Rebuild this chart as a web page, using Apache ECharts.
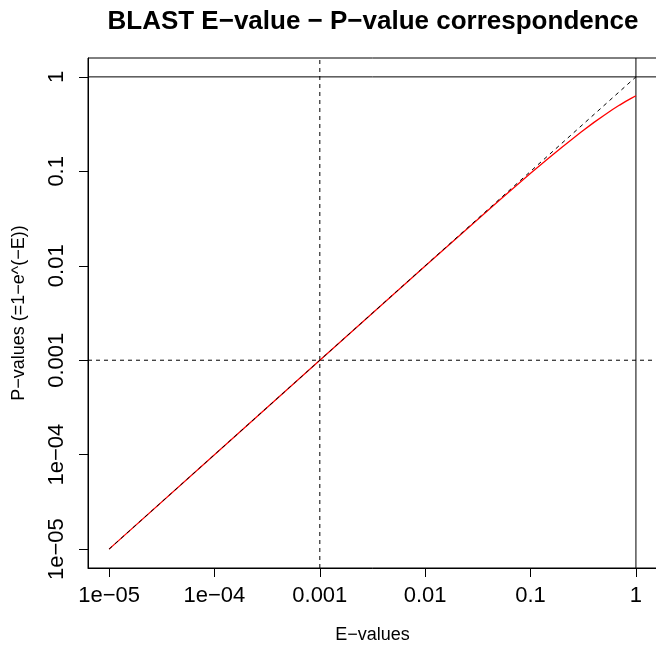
<!DOCTYPE html>
<html>
<head>
<meta charset="utf-8">
<script src="https://cdn.jsdelivr.net/npm/echarts@6/dist/echarts.min.js"></script>
<style>
  html, body { margin: 0; padding: 0; background: #fff; }
  #chart { width: 656px; height: 647px; }
</style>
</head>
<body>
<div id="chart"></div>
<script>
// decade ticks on both axes
var tickValues = [1e-5, 1e-4, 1e-3, 0.01, 0.1, 1];
var tickLabels = ['1e\u221205', '1e\u221204', '0.001', '0.01', '0.1', '1'];

// E-values and matching P-values
var eValues = [1e-5, 1e-4, 1e-3, 0.01, 0.05, 0.1, 0.15, 0.2, 0.3, 0.4, 0.5, 0.6, 0.7, 0.8, 0.9, 1];
var pValues = [1e-5, 1e-4, 0.001, 0.00995, 0.0488, 0.0952, 0.139, 0.181, 0.259, 0.330, 0.393, 0.451, 0.503, 0.551, 0.593, 0.632];

// dashed identity line P = E
var diagE = [1e-5, 1];
var diagP = [1e-5, 1];

// reference lines: dashed cut-offs and solid lines at 1
var cutE = 0.001, cutP = 0.001;
var limE = 1, limP = 1;

var FONT = '"Liberation Sans", Arial, sans-serif';
var AX_MIN = Math.pow(10, -5.2), AX_MAX = Math.pow(10, 0.2);

function fmt(v) {
  for (var i = 0; i < tickValues.length; i++) {
    if (Math.abs(Math.log10(v) - Math.log10(tickValues[i])) < 1e-6) return tickLabels[i];
  }
  return '';
}

function vline(x, type) {
  return {
    type: 'line', data: [[x, AX_MIN], [x, AX_MAX]], symbol: 'none', silent: true,
    lineStyle: { color: '#000', width: 1, type: type }, z: 1
  };
}
function hline(y, type) {
  return {
    type: 'line', data: [[AX_MIN, y], [AX_MAX, y]], symbol: 'none', silent: true,
    lineStyle: { color: '#000', width: 1, type: type }, z: 1
  };
}

var axisCommon = {
  type: 'log',
  logBase: 10,
  min: AX_MIN,
  max: AX_MAX,
  splitLine: { show: false },
  axisLine: { show: true, onZero: false, lineStyle: { color: '#000', width: 1 } },
  axisTick: { show: true, length: 9, inside: false, customValues: tickValues, lineStyle: { color: '#000', width: 1 } },
  nameLocation: 'middle',
  nameTextStyle: { fontFamily: FONT, fontSize: 18, color: '#000' }
};

var chart = echarts.init(document.getElementById('chart'));
chart.setOption({
  animation: false,
  backgroundColor: '#fff',
  title: {
    text: 'BLAST E\u2212value \u2212 P\u2212value correspondence',
    left: 368,
    textAlign: 'center',
    top: 4,
    textStyle: { fontFamily: FONT, fontSize: 26, fontWeight: 'bold', color: '#000' }
  },
  grid: {
    left: 88, top: 58, right: -1, bottom: 79,
    show: true, borderColor: '#000', borderWidth: 1,
    outerBoundsMode: 'none'
  },
  xAxis: Object.assign({}, axisCommon, {
    name: 'E\u2212values',
    nameGap: 58,
    axisLabel: {
      customValues: tickValues,
      formatter: fmt,
      margin: 17,
      fontFamily: FONT, fontSize: 22, color: '#000'
    }
  }),
  yAxis: Object.assign({}, axisCommon, {
    name: 'P\u2212values (=1\u2212e^(\u2212E))',
    nameGap: 60,
    axisLabel: {
      customValues: tickValues,
      formatter: fmt,
      rotate: 90,
      margin: 20,
      fontFamily: FONT, fontSize: 22, color: '#000'
    }
  }),
  series: [
    vline(cutE, [4, 4]),
    hline(cutP, [4, 4]),
    vline(limE, 'solid'),
    hline(limP, 'solid'),
    {
      type: 'line',
      data: eValues.map(function (e, i) { return [e, pValues[i]]; }),
      symbol: 'none',
      silent: true,
      lineStyle: { color: '#ff0000', width: 1.3 },
      z: 2
    },
    {
      type: 'line',
      data: diagE.map(function (e, i) { return [e, diagP[i]]; }),
      symbol: 'none',
      silent: true,
      lineStyle: { color: '#000', width: 1, type: [4, 4] },
      z: 3
    }
  ]
});
</script>
</body>
</html>
